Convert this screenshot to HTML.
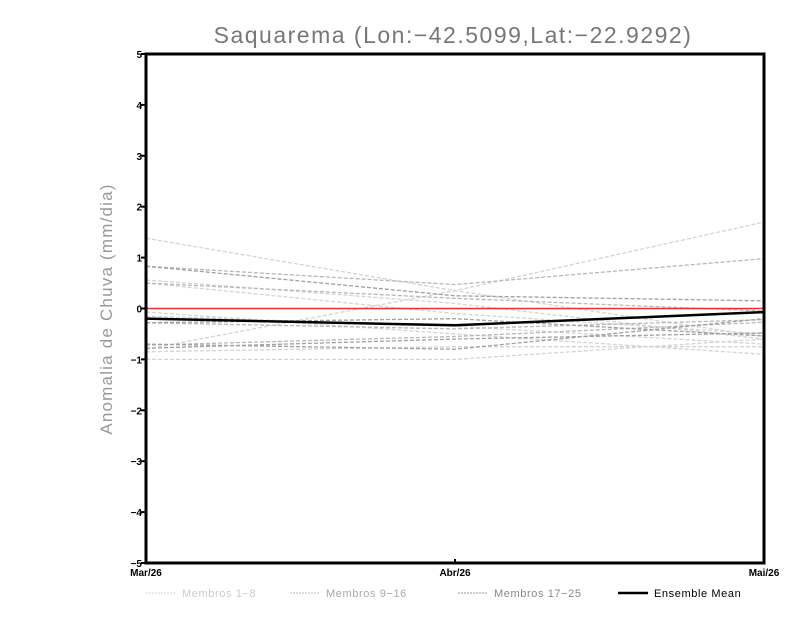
<!DOCTYPE html>
<html><head><meta charset="utf-8"><style>
body{margin:0;background:#fff;}
svg text{font-family:"Liberation Sans",sans-serif;}
</style></head><body>
<svg id="chart" width="800" height="618" xmlns="http://www.w3.org/2000/svg">
<text x="453" y="43" text-anchor="middle" font-size="23" fill="#777" letter-spacing="1.5">Saquarema (Lon:−42.5099,Lat:−22.9292)</text>
<text transform="translate(112,309) rotate(-90)" text-anchor="middle" font-size="17" fill="#999" letter-spacing="1.2">Anomalia de Chuva (mm/dia)</text>
<g id="members"></g>
<g id="axes"></g>
<g font-size="11" letter-spacing="0.6">
<line x1="146" y1="593" x2="176" y2="593" stroke="#d4d4d4" stroke-dasharray="2,1"/>
<text x="182" y="597" fill="#ccc">Membros 1−8</text>
<line x1="290" y1="593" x2="320" y2="593" stroke="#b8b8b8" stroke-dasharray="2,1"/>
<text x="326" y="597" fill="#aaa">Membros 9−16</text>
<line x1="458" y1="593" x2="488" y2="593" stroke="#999" stroke-dasharray="2,1"/>
<text x="494" y="597" fill="#888">Membros 17−25</text>
<line x1="618" y1="593" x2="648" y2="593" stroke="#000" stroke-width="2.5"/>
<text x="654" y="597" fill="#000">Ensemble Mean</text>
</g>
</svg>
<script>
const categories=["Mar/26","Abr/26","Mai/26"];
const yTicks=[-5,-4,-3,-2,-1,0,1,2,3,4,5];
const light=[[1.38,0.35,-0.55],[0.56,0.1,-0.6],[-0.07,-0.5,-0.9],[-1.0,-1.0,-0.6],[-0.8,0.35,1.7],[-0.15,-0.35,-0.7],[-0.85,-0.75,-0.75],[0.5,-0.1,-0.5]];
const medium=[[0.83,0.47,0.98],[-0.28,-0.4,-0.22],[-0.72,-0.55,-0.27],[0.5,0.2,-0.05]];
const dark=[[0.83,0.25,0.15],[-0.78,-0.6,-0.48],[-0.28,-0.2,-0.54],[-0.7,-0.8,-0.2]];
const ensembleMean=[-0.2,-0.33,-0.07];
const ns="http://www.w3.org/2000/svg";
const L=146,R=764,T=54,B=563;
const xs=i=>L+(R-L)*i/(categories.length-1);
const ys=v=>B-(v+5)/10*(B-T);
const mg=document.getElementById('members'),ax=document.getElementById('axes');
function mk(t,a,p){const e=document.createElementNS(ns,t);for(const k in a)e.setAttribute(k,a[k]);p.appendChild(e);return e;}
function poly(vals){return vals.map((v,i)=>xs(i)+","+ys(v)).join(" ");}
[[light,"#d4d4d4"],[medium,"#b8b8b8"],[dark,"#a0a0a0"]].forEach(([g,c],gi)=>{
 g.forEach((s,si)=>{const p=mk('polyline',{points:poly(s),fill:"none",stroke:c,"stroke-width":1.3,"stroke-dasharray":"4,2"},mg);
 
 });
});
const zl=mk('line',{x1:L,x2:R,y1:ys(0),y2:ys(0),stroke:"#f03030","stroke-width":1.5},ax);


const em=mk('polyline',{points:poly(ensembleMean),fill:"none",stroke:"#000","stroke-width":2.5},ax);


const fr=mk('rect',{x:L,y:T,width:R-L,height:B-T,fill:"none",stroke:"#000","stroke-width":3},ax);


yTicks.forEach(v=>{mk('line',{x1:L-5,x2:L,y1:ys(v),y2:ys(v),stroke:"#000","stroke-width":2},ax);
 const t=mk('text',{x:L-4,y:ys(v)+4,"text-anchor":"end","font-size":10,"font-weight":"bold"},ax);t.textContent=String(v).replace('-','−');
 
 });
categories.forEach((c,i)=>{mk('line',{x1:xs(i),x2:xs(i),y1:B-4,y2:B,stroke:"#000","stroke-width":2},ax);
 const t=mk('text',{x:xs(i),y:B+13,"text-anchor":"middle","font-size":10,"font-weight":"bold"},ax);t.textContent=c;
 
 });
</script>
</body></html>
